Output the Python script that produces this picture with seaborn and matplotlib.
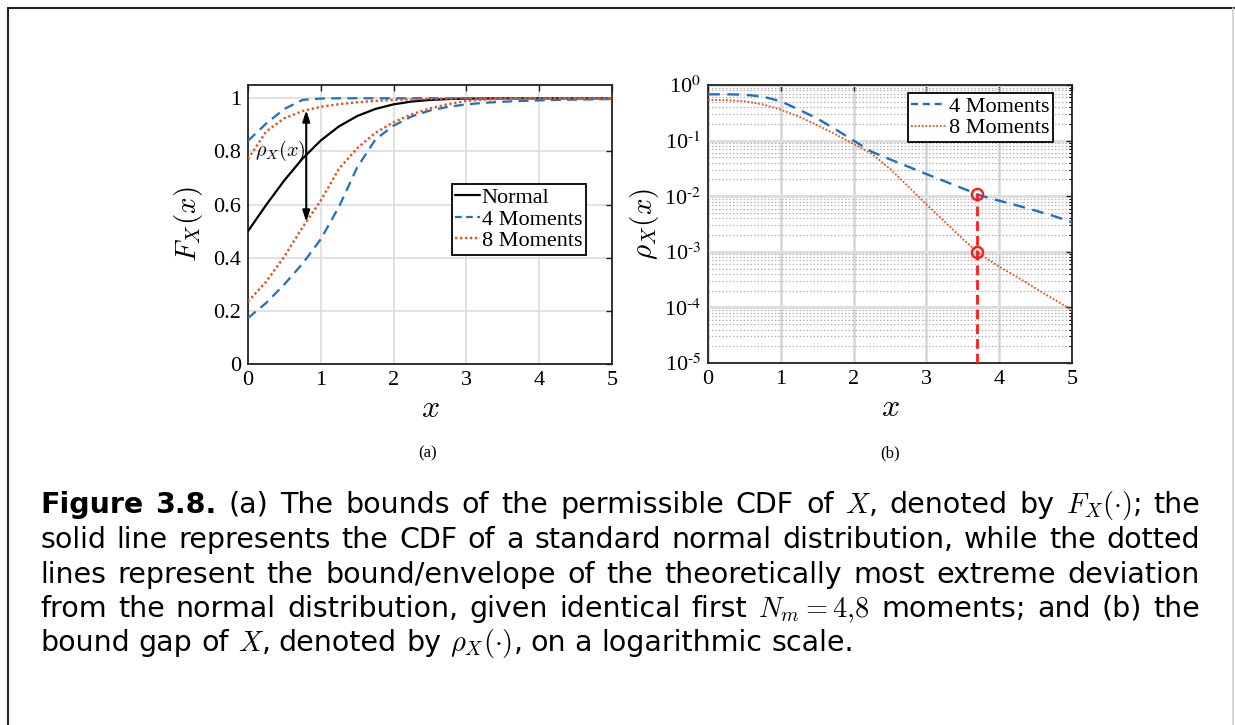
import numpy as np
import pandas as pd
import matplotlib
matplotlib.use("Agg")
import matplotlib.pyplot as plt
import matplotlib.ticker as mticker
from matplotlib.lines import Line2D
import seaborn as sns

# ---------------------------------------------------------------- data
x_grid = [0.0, 0.25, 0.5, 0.75, 1.0, 1.25, 1.5, 1.75, 2.0, 2.25, 2.5,
          2.75, 3.0, 3.25, 3.5, 3.75, 4.0, 4.25, 4.5, 4.75, 5.0]

# standard normal CDF
cdf_normal = [0.5000, 0.5987, 0.6915, 0.7734, 0.8413, 0.8944, 0.9332, 0.9599,
              0.9772, 0.9878, 0.9938, 0.9970, 0.9987, 0.9994, 0.9998, 0.9999,
              1.0000, 1.0000, 1.0000, 1.0000, 1.0000]
# CDF envelope, first 4 moments matched
cdf_upper_4 = [0.840, 0.905, 0.960, 0.994, 0.999, 1.000, 1.000, 1.000, 1.000,
               1.000, 1.000, 1.000, 1.000, 1.000, 1.000, 1.000, 1.000, 1.000,
               1.000, 1.000, 1.000]
cdf_lower_4 = [0.173, 0.230, 0.300, 0.378, 0.470, 0.592, 0.740, 0.845, 0.897,
               0.932, 0.954, 0.968, 0.977, 0.983, 0.987, 0.990, 0.992, 0.994,
               0.995, 0.996, 0.997]
# CDF envelope, first 8 moments matched
cdf_upper_8 = [0.772, 0.875, 0.925, 0.952, 0.968, 0.978, 0.985, 0.990, 0.994,
               0.996, 0.998, 0.999, 1.000, 1.000, 1.000, 1.000, 1.000, 1.000,
               1.000, 1.000, 1.000]
cdf_lower_8 = [0.235, 0.310, 0.405, 0.515, 0.615, 0.735, 0.812, 0.870, 0.910,
               0.940, 0.962, 0.978, 0.990, 0.995, 0.998, 0.999, 0.9995, 1.000,
               1.000, 1.000, 1.000]

# bound gap rho_X(x)
gap_4 = [0.68, 0.68, 0.67, 0.62, 0.51, 0.36, 0.25, 0.16, 0.10, 0.063, 0.046,
         0.034, 0.025, 0.0186, 0.0138, 0.0102, 0.0083, 0.0068, 0.0055, 0.0044,
         0.0034]
gap_8 = [0.54, 0.535, 0.51, 0.45, 0.36, 0.27, 0.19, 0.13, 0.087, 0.058, 0.031,
         0.0150, 0.0071, 0.0035, 0.0017, 0.00088, 0.00054, 0.00035, 0.00022,
         0.00014, 0.000089]

x_ticks = [0, 1, 2, 3, 4, 5]
cdf_ticks = [0, 0.2, 0.4, 0.6, 0.8, 1]
cdf_ticklabels = ["0", "0.2", "0.4", "0.6", "0.8", "1"]
gap_exponents = [-5, -4, -3, -2, -1, 0]
arrow_x = 0.8          # location of the rho_X(x) arrow in panel (a)
marker_x = 3.7         # highlighted abscissa in panel (b)

series_labels = ["Normal", "4 Moments", "8 Moments"]

# ---------------------------------------------------------------- style
sns.set_theme(style="white")
plt.rcParams["font.family"] = ["Liberation Serif", "DejaVu Serif"]
plt.rcParams["mathtext.fontset"] = "stix"
plt.rcParams["text.color"] = "black"
plt.rcParams["axes.labelcolor"] = "black"
plt.rcParams["xtick.color"] = "black"
plt.rcParams["ytick.color"] = "black"

BLUE = "#1f6fc4"
ORANGE = "#e8521c"
RED = "#ff1a1a"
W, H = 1235, 725

fig = plt.figure(figsize=(W / 100, H / 100), dpi=100)
fig.patch.set_facecolor("white")


def fig_rect(left, top, right, bottom):
    return [left / W, 1 - bottom / H, (right - left) / W, (bottom - top) / H]


ax1 = fig.add_axes(fig_rect(248, 85, 612, 364))
ax2 = fig.add_axes(fig_rect(708, 85, 1072, 363))

df = pd.DataFrame({"x": x_grid, "normal": cdf_normal,
                   "u4": cdf_upper_4, "l4": cdf_lower_4,
                   "u8": cdf_upper_8, "l8": cdf_lower_8,
                   "g4": gap_4, "g8": gap_8})

dash_style = (0, (4.5, 2.8))
dot_style = (0, (1.0, 1.1))

# ---------------------------------------------------------------- panel (a)
sns.lineplot(data=df, x="x", y="normal", ax=ax1, color="black", lw=1.6,
             zorder=3)
for col in ["u4", "l4"]:
    sns.lineplot(data=df, x="x", y=col, ax=ax1, color=BLUE, lw=1.6,
                 linestyle=dash_style, zorder=3)
for col in ["u8", "l8"]:
    sns.lineplot(data=df, x="x", y=col, ax=ax1, color=ORANGE, lw=1.7,
                 linestyle=dot_style, zorder=4)

ax1.set_xlim(0, 5)
ax1.set_ylim(0, 1.05)
ax1.set_xticks(x_ticks)
ax1.set_yticks(cdf_ticks)
ax1.set_yticklabels(cdf_ticklabels)
ax1.grid(True, color="#dddddd", lw=1.2)
ax1.set_axisbelow(True)

top = np.interp(arrow_x, x_grid, cdf_upper_8)
bot = np.interp(arrow_x, x_grid, cdf_lower_8)
ax1.annotate("", xy=(arrow_x, top), xytext=(arrow_x, bot),
             arrowprops=dict(arrowstyle="<|-|>,head_length=0.55,head_width=0.18",
                             color="black", lw=1.5, shrinkA=0, shrinkB=0),
             zorder=5)
ax1.text(0.10, 0.80, r"$\rho_X(x)$", fontsize=14.5, math_fontfamily="cm",
         ha="left", va="center", zorder=6)

handles_a = [Line2D([], [], color="black", lw=1.6),
             Line2D([], [], color=BLUE, lw=1.6, linestyle=(0, (3.0, 2.0))),
             Line2D([], [], color=ORANGE, lw=1.7, linestyle=dot_style)]
leg1 = ax1.legend(handles_a, series_labels, loc="upper left",
                  bbox_to_anchor=(0.56, 0.645), borderaxespad=0, fontsize=16,
                  handlelength=1.1, handletextpad=0.1, labelspacing=0.05,
                  borderpad=0.15, fancybox=False, framealpha=1,
                  edgecolor="black")
leg1.get_frame().set_linewidth(1.3)

ax1.set_xlabel(r"$x$", fontsize=23, math_fontfamily="cm", labelpad=4)
ax1.set_ylabel(r"$F_X(x)$", fontsize=21, math_fontfamily="cm", labelpad=6)

# ---------------------------------------------------------------- panel (b)
sns.lineplot(data=df, x="x", y="g4", ax=ax2, color=BLUE, lw=1.7,
             linestyle=(0, (5.0, 3.2)), zorder=3)
sns.lineplot(data=df, x="x", y="g8", ax=ax2, color=ORANGE, lw=1.3,
             linestyle=(0, (1.0, 1.0)), zorder=4)
ax2.set_yscale("log")
ax2.set_xlim(0, 5)
ax2.set_ylim(1e-5, 1)
ax2.set_xticks(x_ticks)
ax2.set_yticks([10.0 ** e for e in gap_exponents])
ax2.set_yticklabels([r"$\mathdefault{10^{\text{%d}}}$" % e
                     for e in gap_exponents])
ax2.yaxis.set_minor_locator(mticker.LogLocator(base=10, subs=np.arange(2, 10),
                                               numticks=20))
ax2.yaxis.set_minor_formatter(mticker.NullFormatter())
ax2.grid(True, which="major", axis="x", color="#d6d6d6", lw=1.8)
ax2.grid(True, which="major", axis="y", color="#dedede", lw=2.2)
ax2.grid(True, which="minor", axis="y", color="#b4b4b4", lw=0.9,
         linestyle=(0, (1.2, 1.6)))
ax2.set_axisbelow(True)

m4 = 10 ** np.interp(marker_x, x_grid, np.log10(gap_4))
m8 = 10 ** np.interp(marker_x, x_grid, np.log10(gap_8))
ax2.plot([marker_x, marker_x], [1e-5, m4], color=RED, lw=2.0,
         linestyle=(0, (3.5, 1.8)), zorder=5)
ax2.plot([marker_x, marker_x], [m4, m8], color=RED, lw=0, marker="o",
         markersize=8, markerfacecolor="none", markeredgecolor=RED,
         markeredgewidth=1.7, zorder=6)

handles_b = [Line2D([], [], color=BLUE, lw=1.7, linestyle=(0, (3.0, 2.0))),
             Line2D([], [], color=ORANGE, lw=1.3, linestyle=(0, (1.0, 1.0)))]
leg2 = ax2.legend(handles_b, series_labels[1:], loc="upper right",
                  bbox_to_anchor=(0.948, 0.972), borderaxespad=0, fontsize=16,
                  handlelength=1.55, handletextpad=0.15, labelspacing=0.05,
                  borderpad=0.15, fancybox=False, framealpha=1,
                  edgecolor="black")
leg2.get_frame().set_linewidth(1.3)

ax2.set_xlabel(r"$x$", fontsize=23, math_fontfamily="cm", labelpad=4)
ax2.set_ylabel(r"$\rho_X(x)$", fontsize=21, math_fontfamily="cm", labelpad=2)

for ax in (ax1, ax2):
    ax.tick_params(axis="both", which="major", direction="in", length=4,
                   width=1.0, top=True, right=True, labelsize=16, pad=5,
                   colors="#222222", labelcolor="black")
    ax.tick_params(axis="both", which="minor", direction="in", length=2,
                   width=0.8, top=True, right=True)
    for sp in ax.spines.values():
        sp.set_linewidth(1.3)
        sp.set_color("#222222")
ax2.tick_params(axis="x", which="minor", bottom=False, top=False)

fig.text(428 / W, 1 - 453 / H, "(a)", fontsize=12, ha="center", va="center")
fig.text(890 / W, 1 - 453 / H, "(b)", fontsize=12, ha="center", va="center")

# ---------------------------------------------------------------- page frame
fig.add_artist(Line2D([8 / W, 8 / W], [0, 1 - 8 / H], color="#222222",
                      lw=1.5, transform=fig.transFigure))
fig.add_artist(Line2D([8 / W, 1], [1 - 8 / H, 1 - 8 / H], color="#222222",
                      lw=1.5, transform=fig.transFigure))
fig.add_artist(Line2D([1233 / W, 1233 / W], [0, 1 - 8 / H], color="#d0d0d0",
                      lw=1.2, transform=fig.transFigure))

# ---------------------------------------------------------------- caption
CAP_FS = 20.5
CAP_X0, CAP_X1 = 40, 1200
caption_lines = [
    [("Figure", "bold"), ("3.8.", "bold"), "(a)", "The", "bounds", "of",
     "the", "permissible", "CDF", "of", "$X$,", "denoted", "by",
     r"$F_X(\cdot)$;", "the"],
    ["solid", "line", "represents", "the", "CDF", "of", "a", "standard",
     "normal", "distribution,", "while", "the", "dotted"],
    ["lines", "represent", "the", "bound/envelope", "of", "the",
     "theoretically", "most", "extreme", "deviation"],
    ["from", "the", "normal", "distribution,", "given", "identical", "first",
     r"$N_m=4{,}8$", "moments;", "and", "(b)", "the"],
    ["bound", "gap", "of", "$X$,", "denoted", "by", r"$\rho_X(\cdot)$,", "on",
     "a", "logarithmic", "scale."],
]
baselines = [513, 548, 583, 617, 651]

renderer = fig.canvas.get_renderer()


def cap_text(s, weight="normal"):
    return fig.text(0, 0, s, fontsize=CAP_FS, fontweight=weight,
                    family="DejaVu Sans", math_fontfamily="cm",
                    color="black", ha="left", va="baseline")


probe_a, probe_b = cap_text("a a"), cap_text("aa")
space_w = (probe_a.get_window_extent(renderer).width
           - probe_b.get_window_extent(renderer).width)
probe_a.remove()
probe_b.remove()

for i, (tokens, yb) in enumerate(zip(caption_lines, baselines)):
    texts = []
    for tok in tokens:
        s, weight = (tok if isinstance(tok, tuple) else (tok, "normal"))
        t = cap_text(s, weight)
        t.set_y(1 - yb / H)
        texts.append(t)
    widths = [t.get_window_extent(renderer).width for t in texts]
    if i < len(caption_lines) - 1:
        gap = (CAP_X1 - CAP_X0 - sum(widths)) / (len(texts) - 1)
    else:
        gap = space_w
    xpos = CAP_X0
    for t, w in zip(texts, widths):
        t.set_x(xpos / W)
        xpos += w + gap

fig.savefig("out.png", dpi=100, facecolor="white")
